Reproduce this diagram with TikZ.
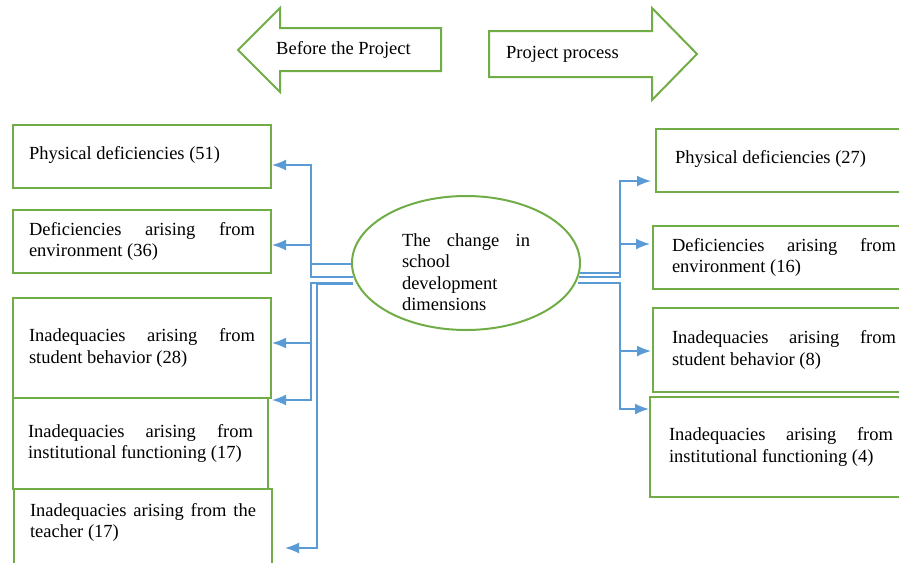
\documentclass[tikz,border=0pt]{standalone}
\usepackage{fontspec}
\setmainfont{Liberation Serif}
\usetikzlibrary{calc,shapes.geometric,arrows.meta}
\hyphenpenalty=10000
\exhyphenpenalty=10000
\tolerance=10000
\definecolor{dimgreen}{RGB}{112,173,71}
\definecolor{dimblue}{RGB}{91,155,213}
\tikzset{
  dimbox/.style={draw=dimgreen,line width=2pt,anchor=north west,align=justify,inner ysep=6pt},
  leftbox/.style={dimbox,text width=226pt,inner xsep=15pt,minimum width=258pt},
  rightbox/.style={dimbox,text width=224pt,inner xsep=17pt,minimum width=262pt},
  link/.style={draw=dimblue,line width=1.6pt,-{Latex[length=14pt,width=11pt]}},
  bigarrow/.style={draw=dimgreen,line width=2pt},
  arrowtext/.style={anchor=west,inner sep=0pt}
}
\begin{document}
\begin{tikzpicture}[x=1pt,y=-1pt,font=\fontsize{18.5}{21.5}\selectfont]
\useasboundingbox (0,0) rectangle (899,562);
\draw [bigarrow](441,28) -- (280,28) -- (280,8) -- (238,50) -- (280,92) -- (280,71) -- (441,71) -- cycle;
\node [arrowtext] (before) at (276,50) {Before the Project};
\draw [bigarrow](489,31) -- (652,31) -- (652,8) -- (697,54) -- (652,100) -- (652,77) -- (489,77) -- cycle;
\node [arrowtext] (process) at (506,54) {Project process};

\node [leftbox,minimum height=63pt,text depth=8pt] (l1) at (12,124) {Physical deficiencies (51)};
\node [leftbox,minimum height=63pt] (l2) at (12,209) {Deficiencies arising from environment (36)};
\node [leftbox,minimum height=100pt] (l3) at (12,297) {Inadequacies arising from student behavior (28)};
\node [leftbox,minimum height=91pt,text width=225pt,minimum width=255pt] (l4) at (12,397) {Inadequacies arising from institutional functioning (17)};
\node [leftbox,inner ysep=14pt,text depth=60pt] (l5) at (13,488) {Inadequacies arising from the teacher (17)};

\node [rightbox,minimum height=63pt,text depth=8pt] (r1) at (655,128) {Physical deficiencies (27)};
\node [rightbox,minimum height=63pt] (r2) at (652,225) {Deficiencies arising from environment (16)};
\node [rightbox,minimum height=84pt] (r3) at (652,307) {Inadequacies arising from student behavior (8)};
\node [rightbox,minimum height=100pt] (r4) at (649,396) {Inadequacies arising from institutional functioning (4)};

\node [draw=dimgreen,line width=2pt,ellipse,minimum width=228pt,minimum height=134pt] (ell) at (466,263) {};
\node [align=left,text width=128pt] (elltext) at (466,272) {The\hfill change\hfill in\\school\\development\\dimensions};

\coordinate (lbus) at (311,263);
\coordinate (lbus2) at (317,263);
\coordinate (rbus) at (620,263);

\draw [link]($(ell.west)+(0,1)$) -| ($(lbus |- l1.east)+(0,8.5)$) -- ($(l1.east)+(0,8.5)$);
\draw [link]($(ell.west)+(2,14)$) -| ($(lbus |- l2.east)+(0,3.5)$) -- ($(l2.east)+(0,3.5)$);
\draw [link]($(ell.west)+(2,20)$) -| ($(lbus |- l4.east)+(0,-43.5)$) -- ($(l4.east)+(3,-43.5)$);
\draw [link]($(lbus |- l3.east)+(0,-5)$) -- ($(l3.east)+(0,-5)$);
\draw [link]($(ell.west)+(2,21)$) -| ($(lbus2 |- l5.north)+(0,60)$) -- ($(l5.north east)+(12,60)$);

\draw [link]($(ell.east)+(-1,10)$) -| ($(rbus |- r1.west)+(0,20.5)$) -- ($(r1.west)+(-4,20.5)$);
\draw [link]($(ell.east)+(-2,14)$) -| ($(rbus |- r2.west)+(0,-13.5)$) -- ($(r2.west)+(-2,-13.5)$);
\draw [link]($(ell.east)+(-3,20)$) -| ($(rbus |- r4.west)+(0,-38)$) -- ($(r4.west)+(0,-38)$);
\draw [link]($(rbus |- r3.west)+(0,1)$) -- ($(r3.west)+(-1,1)$);
\end{tikzpicture}
\end{document}
